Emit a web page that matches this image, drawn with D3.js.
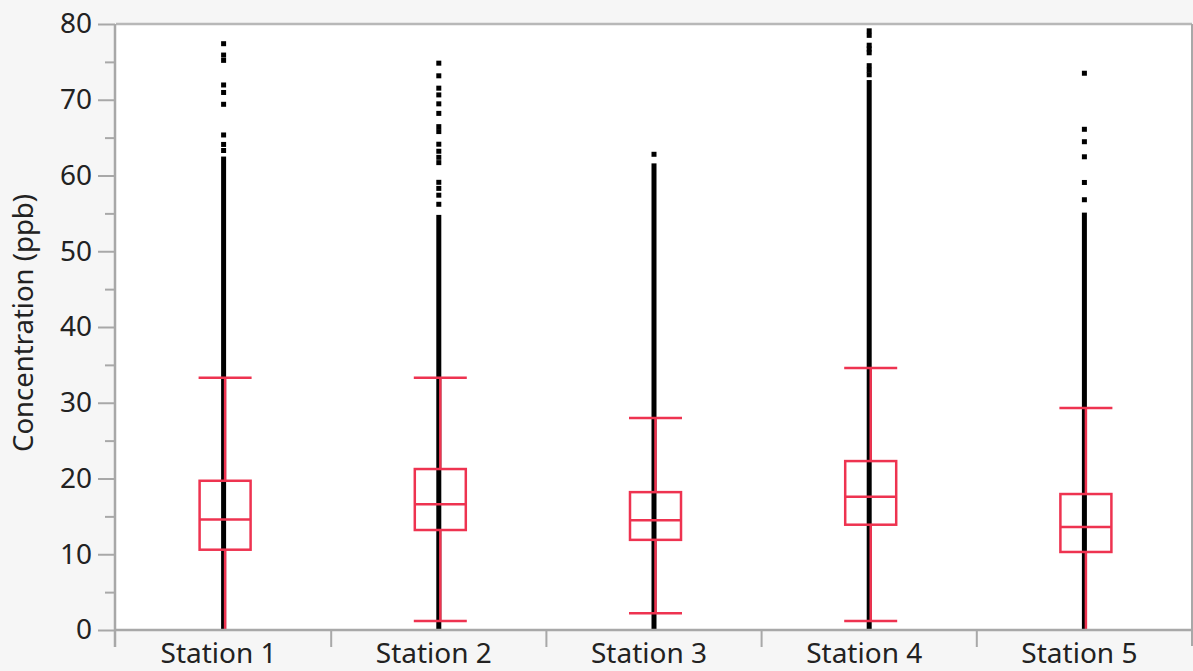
<!DOCTYPE html>
<meta charset="utf-8">
<style>
    body { margin: 0; background: #f6f6f6; }
    text { font-family: "Noto Sans", sans-serif; fill: #222; }
    .frame { fill: #fff; stroke: none; }
</style>
<svg width="1193" height="671"></svg>
<script src="https://d3js.org/d3.v7.min.js"></script>
<script>
    // values
    const stations = ["Station 1", "Station 2", "Station 3", "Station 4", "Station 5"];
    const q1 = [10.6, 13.2, 11.9, 13.9, 10.3];
    const median = [14.6, 16.6, 14.5, 17.6, 13.6];
    const q3 = [19.7, 21.25, 18.2, 22.3, 17.95];
    const whiskerLow = [0, 1.2, 2.2, 1.2, 0];
    const whiskerHigh = [33.3, 33.3, 28.0, 34.6, 29.3];
    const denseMax = [62.5, 54.8, 61.6, 72.6, 55.1];
    const outliers = [
        [77.4, 75.9, 75.2, 71.95, 70.96, 69.4, 65.35, 64.1, 63.3],
        [74.83, 73.16, 71.53, 70.64, 69.46, 68.2, 66.45, 65.8, 64.13, 63.2, 62.4, 61.7, 59.1, 58.3, 57.4, 56.2],
        [62.8],
        [79.1, 78.5, 77.2, 76.7, 76.2, 74.5, 73.9, 73.3],
        [73.5, 66.1, 64.46, 62.47, 59.08, 56.8]
    ];
    const yTicks = [0, 10, 20, 30, 40, 50, 60, 70, 80];
    const yMinor = [5, 15, 25, 35, 45, 55, 65, 75];

    const plotLeft = 116, plotRight = 1192, plotTop = 24, plotBottom = 630;
    const red = "#ee3350";
    const grey = "#a8a8a8";

    const svg = d3.select("svg");

    const x = d3.scaleBand().domain(stations).range([plotLeft, plotRight]);
    const y = d3.scaleLinear().domain([0, 80]).range([plotBottom, plotTop]);

    svg.append("rect").attr("class", "frame")
        .attr("x", plotLeft).attr("y", plotTop)
        .attr("width", plotRight - plotLeft).attr("height", plotBottom - plotTop);

    const boxW = 51;
    const shift = 1.5; // box and whiskers sit a bit right of the point column

    const g = svg.append("g");

    stations.forEach(function (s, i) {
        const cx = x(s) + x.bandwidth() / 2;
        const bx = cx + shift;

        // dense column of points
        g.append("rect")
            .attr("x", cx - 2.5).attr("width", 5)
            .attr("y", y(denseMax[i])).attr("height", y(0) - y(denseMax[i]))
            .attr("fill", "#000");

        // sparse upper points
        g.selectAll(null).data(outliers[i]).enter().append("rect")
            .attr("x", cx - 2.5).attr("width", 5)
            .attr("y", function (d) { return y(d) - 2.5; }).attr("height", 5)
            .attr("fill", "#000");

        // whiskers
        g.append("line")
            .attr("x1", bx).attr("x2", bx)
            .attr("y1", y(q3[i])).attr("y2", y(whiskerHigh[i]))
            .attr("stroke", red).attr("stroke-width", 2.5);
        g.append("line")
            .attr("x1", bx).attr("x2", bx)
            .attr("y1", y(q1[i])).attr("y2", y(whiskerLow[i]))
            .attr("stroke", red).attr("stroke-width", 2.5);

        // caps (a cap on the zero line is hidden by the axis)
        [whiskerLow[i], whiskerHigh[i]].filter(function (v) { return v > 0; }).forEach(function (v) {
            g.append("line")
                .attr("x1", bx - boxW / 2 - 1).attr("x2", bx + boxW / 2 + 1)
                .attr("y1", y(v)).attr("y2", y(v))
                .attr("stroke", red).attr("stroke-width", 2.5);
        });

        // box
        g.append("rect")
            .attr("x", bx - boxW / 2).attr("width", boxW)
            .attr("y", y(q3[i])).attr("height", y(q1[i]) - y(q3[i]))
            .attr("fill", "none").attr("stroke", red).attr("stroke-width", 2.5);
        g.append("line")
            .attr("x1", bx - boxW / 2).attr("x2", bx + boxW / 2)
            .attr("y1", y(median[i])).attr("y2", y(median[i]))
            .attr("stroke", red).attr("stroke-width", 2.5);
    });

    // top and right border
    svg.append("line").attr("x1", plotLeft).attr("x2", plotRight).attr("y1", plotTop).attr("y2", plotTop)
        .attr("stroke", "#b8b8b8").attr("stroke-width", 2.5);
    svg.append("line").attr("x1", plotRight).attr("x2", plotRight).attr("y1", plotTop).attr("y2", plotBottom + 16)
        .attr("stroke", grey).attr("stroke-width", 2);

    // y axis
    const yAxis = svg.append("g")
        .attr("transform", "translate(" + (plotLeft - 1) + ",0)")
        .call(d3.axisLeft(y).tickValues(yTicks).tickSize(17).tickPadding(6).tickSizeOuter(0));
    yAxis.select(".domain").remove();
    yAxis.selectAll("line").attr("stroke", grey).attr("stroke-width", 2);
    yAxis.selectAll("text").attr("font-size", 28).attr("fill", "#222");

    const yMinorAxis = svg.append("g")
        .attr("transform", "translate(" + (plotLeft - 1) + ",0)")
        .call(d3.axisLeft(y).tickValues(yMinor).tickSize(10).tickFormat(""));
    yMinorAxis.select(".domain").remove();
    yMinorAxis.selectAll("line").attr("stroke", grey).attr("stroke-width", 2);

    svg.append("line").attr("x1", plotLeft - 1).attr("x2", plotLeft - 1).attr("y1", plotTop).attr("y2", plotBottom + 17)
        .attr("stroke", grey).attr("stroke-width", 2.5);

    // x axis
    const xAxis = svg.append("g")
        .attr("transform", "translate(0," + plotBottom + ")")
        .call(d3.axisBottom(x).tickSize(0).tickPadding(13));
    xAxis.select(".domain").remove();
    xAxis.selectAll("text").attr("font-size", 28).attr("fill", "#222").attr("dx", -5);

    svg.append("line").attr("x1", plotLeft - 1).attr("x2", plotRight).attr("y1", plotBottom).attr("y2", plotBottom)
        .attr("stroke", grey).attr("stroke-width", 2.5);

    svg.append("g").selectAll("line")
        .data(stations.slice(1)).enter().append("line")
        .attr("x1", function (d) { return x(d); }).attr("x2", function (d) { return x(d); })
        .attr("y1", plotBottom).attr("y2", plotBottom + 17)
        .attr("stroke", grey).attr("stroke-width", 2);

    // y label
    svg.append("text")
        .attr("transform", "translate(33," + 323 + ") rotate(-90)")
        .attr("text-anchor", "middle")
        .attr("font-size", 27.5)
        .attr("fill", "#333")
        .text("Concentration (ppb)");
</script>
